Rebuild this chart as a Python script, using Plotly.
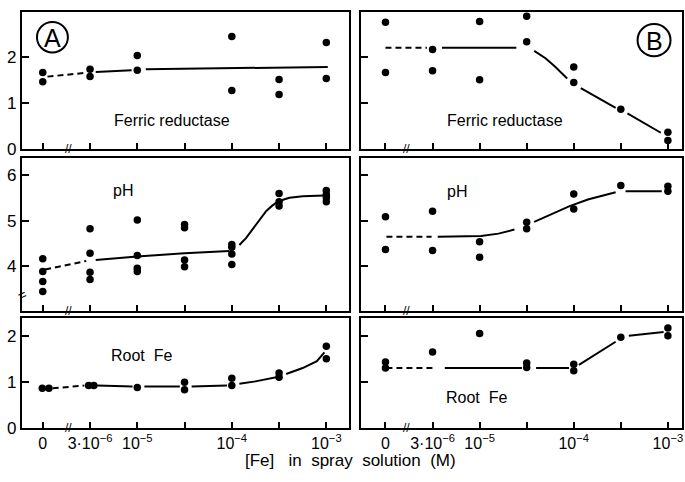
import plotly.graph_objects as go

# ---------------- data ----------------
conc_index = [0, 1, 2, 3, 4, 5, 6]
conc_labels = ["0", "3·10<sup>−6</sup>", "10<sup>−5</sup>", "", "10<sup>−4</sup>", "", "10<sup>−3</sup>"]

# Panel A - Ferric reductase
A_fr_x = [0, 0, 1, 1, 2, 2, 4, 4, 5, 5, 6, 6]
A_fr_y = [1.66, 1.46, 1.73, 1.57, 2.03, 1.71, 2.44, 1.27, 1.51, 1.18, 2.31, 1.53]
A_fr_dash_x = [0.1, 0.88]
A_fr_dash_y = [1.57, 1.65]
A_fr_fit_x = [1.12, 1.88, None, 2.18, 6.03]
A_fr_fit_y = [1.67, 1.71, None, 1.73, 1.78]

# Panel B - Ferric reductase
B_fr_x = [0, 0, 1, 1, 2, 2, 3, 3, 4, 4, 5, 6, 6]
B_fr_y = [2.75, 1.66, 2.16, 1.70, 2.77, 1.50, 2.88, 2.33, 1.78, 1.44, 0.86, 0.36, 0.18]
B_fr_dash_x = [0.0, 0.88]
B_fr_dash_y = [2.2, 2.2]
B_fr_fit_x = [1.2, 2.78, None, 3.16, 3.4, 3.6, 3.86, None, 4.15, 4.5, 4.89, None, 5.14, 5.5, 5.85]
B_fr_fit_y = [2.2, 2.2, None, 2.13, 1.97, 1.79, 1.53, None, 1.32, 1.12, 0.89, None, 0.77, 0.56, 0.35]

# Panel A - pH
A_ph_x = [0, 0, 0, 0, 1, 1, 1, 1, 2, 2, 2, 2, 3, 3, 3, 3, 4, 4, 4, 4, 5, 5, 5, 6, 6, 6, 6]
A_ph_y = [4.17, 3.89, 3.67, 3.45, 4.83, 4.29, 3.87, 3.71, 5.02, 4.24, 3.96, 3.89,
          4.92, 4.85, 4.14, 3.99, 4.48, 4.42, 4.27, 4.04, 5.60, 5.42, 5.33,
          5.67, 5.58, 5.51, 5.42]
A_ph_dash_x = [0.05, 0.92]
A_ph_dash_y = [3.93, 4.12]
A_ph_fit_x = [1.12, 2.0, 3.0, 3.95, None, 4.16, 4.3, 4.45, 4.6, 4.73, 4.85, 4.94, 5.1, 5.22, 5.5, 5.96]
A_ph_fit_y = [4.14, 4.22, 4.29, 4.34, None, 4.47, 4.62, 4.83, 5.05, 5.22, 5.33, 5.40, 5.47, 5.51, 5.54, 5.56]

# Panel B - pH
B_ph_x = [0, 0, 1, 1, 2, 2, 3, 3, 4, 4, 5, 6, 6]
B_ph_y = [5.09, 4.37, 5.21, 4.35, 4.54, 4.20, 4.97, 4.83, 5.59, 5.26, 5.78, 5.76, 5.65]
B_ph_dash_x = [0.02, 0.98]
B_ph_dash_y = [4.65, 4.65]
B_ph_fit_x = [1.11, 2.03, 2.4, 2.74, None, 3.16, 3.5, 3.9, 4.3, 4.6, 4.89, None, 5.1, 5.87]
B_ph_fit_y = [4.65, 4.67, 4.72, 4.81, None, 4.98, 5.13, 5.32, 5.47, 5.56, 5.63, None, 5.65, 5.65]

# Panel A - Root Fe
A_rf_x = [-0.01, 0.13, 0.97, 1.08, 2, 3, 3, 4, 4, 5, 5, 6, 6]
A_rf_y = [0.86, 0.86, 0.92, 0.92, 0.88, 0.99, 0.83, 1.08, 0.92, 1.19, 1.10, 1.77, 1.50]
A_rf_dash_x = [0.21, 0.88]
A_rf_dash_y = [0.86, 0.92]
A_rf_fit_x = [1.15, 1.9, None, 2.15, 2.9, None, 3.15, 3.9, None, 4.16, 4.5, 4.94, None, 5.15, 5.5, 5.8, 5.96]
A_rf_fit_y = [0.92, 0.90, None, 0.90, 0.90, None, 0.90, 0.92, None, 0.96, 1.01, 1.10, None, 1.17, 1.30, 1.45, 1.64]

# Panel B - Root Fe
B_rf_x = [0, 0, 1, 2, 3, 3, 4, 4, 5, 6, 6]
B_rf_y = [1.43, 1.30, 1.65, 2.05, 1.41, 1.31, 1.38, 1.24, 1.97, 2.17, 2.00]
B_rf_dash_x = [0.02, 1.0]
B_rf_dash_y = [1.30, 1.30]
B_rf_fit_x = [1.26, 2.9, None, 3.2, 3.9, None, 4.11, 4.89, None, 5.17, 5.91]
B_rf_fit_y = [1.30, 1.30, None, 1.30, 1.30, None, 1.37, 1.87, None, 2.00, 2.08]

fr_ticks = [0, 1, 2]
ph_ticks = [4, 5, 6]
rf_ticks = [0, 1, 2]

# ---------------- figure ----------------
W, H = 685, 482
FONT = "Liberation Sans, Arial, sans-serif"

def px_x(p):
    return p / W

def px_y(p):
    return 1 - p / H

panels = [
    ("", A_fr_x, A_fr_y, A_fr_dash_x, A_fr_dash_y, A_fr_fit_x, A_fr_fit_y),
    ("2", B_fr_x, B_fr_y, B_fr_dash_x, B_fr_dash_y, B_fr_fit_x, B_fr_fit_y),
    ("3", A_ph_x, A_ph_y, A_ph_dash_x, A_ph_dash_y, A_ph_fit_x, A_ph_fit_y),
    ("4", B_ph_x, B_ph_y, B_ph_dash_x, B_ph_dash_y, B_ph_fit_x, B_ph_fit_y),
    ("5", A_rf_x, A_rf_y, A_rf_dash_x, A_rf_dash_y, A_rf_fit_x, A_rf_fit_y),
    ("6", B_rf_x, B_rf_y, B_rf_dash_x, B_rf_dash_y, B_rf_fit_x, B_rf_fit_y),
]

fig = go.Figure()
for suf, px, py, dx, dy, fx, fy in panels:
    xa, ya = "x" + suf, "y" + suf
    fig.add_trace(go.Scatter(x=dx, y=dy, mode="lines", xaxis=xa, yaxis=ya,
                             line=dict(color="black", width=2, dash="6px,4px"),
                             showlegend=False, hoverinfo="skip"))
    fig.add_trace(go.Scatter(x=fx, y=fy, mode="lines", xaxis=xa, yaxis=ya,
                             line=dict(color="black", width=2), connectgaps=False,
                             showlegend=False, hoverinfo="skip"))
    fig.add_trace(go.Scatter(x=px, y=py, mode="markers", xaxis=xa, yaxis=ya,
                             marker=dict(color="black", size=7.5),
                             showlegend=False))

left_dom = [px_x(22), px_x(350)]
right_dom = [px_x(362), px_x(683)]
left_rng = [-0.44, 6.49]
right_rng = [-0.51, 6.30]
row_dom = [
    [px_y(152), px_y(12)],
    [px_y(318), px_y(161.5)],
    [px_y(437), px_y(325)],
]
y_rngs = [[0, 2.98], [3.01, 6.38], [0, 2.38]]
y_ticks = [fr_ticks, ph_ticks, rf_ticks]

layout = dict(
    width=W, height=H,
    margin=dict(l=0, r=0, t=0, b=0),
    paper_bgcolor="white", plot_bgcolor="white",
    font=dict(family=FONT, color="black", size=16),
    showlegend=False,
)

axis_common = dict(showline=True, linecolor="black", linewidth=2, mirror=True,
                   showgrid=False, zeroline=False, ticks="inside",
                   tickcolor="black", tickwidth=1.5)

for i in range(6):
    row, col = i // 2, i % 2
    suf = "" if i == 0 else str(i + 1)
    layout["xaxis" + suf] = dict(axis_common,
                                 domain=left_dom if col == 0 else right_dom,
                                 range=left_rng if col == 0 else right_rng,
                                 anchor="y" + suf,
                                 tickmode="array",
                                 tickvals=conc_index, ticktext=conc_labels,
                                 showticklabels=(row == 2), ticklen=6,
                                 tickfont=dict(size=16, family=FONT))
    layout["yaxis" + suf] = dict(axis_common,
                                 domain=row_dom[row], range=y_rngs[row],
                                 anchor="x" + suf,
                                 tickmode="array",
                                 tickvals=y_ticks[row], ticklen=7,
                                 showticklabels=(col == 0),
                                 tickfont=dict(size=17, family=FONT))

fig.update_layout(**layout)

annotations = []
for txt, xp, yp in [("Ferric reductase", 172, 123), ("Ferric reductase", 506, 123),
                    ("pH", 123, 195), ("pH", 458, 196),
                    ("Root  Fe", 142, 363), ("Root  Fe", 477, 406)]:
    annotations.append(dict(text=txt, x=px_x(xp), y=px_y(yp), xref="paper", yref="paper",
                            showarrow=False, font=dict(size=16, family=FONT),
                            xanchor="center", yanchor="middle"))
for txt, cx, cy in [("A", 52.5, 38), ("B", 655, 41)]:
    annotations.append(dict(text=txt, x=px_x(cx), y=px_y(cy + 1), xref="paper", yref="paper",
                            showarrow=False, font=dict(size=25, family=FONT),
                            xanchor="center", yanchor="middle"))
for i in range(6):
    suf = "" if i == 0 else str(i + 1)
    annotations.append(dict(text="//", x=0.55 if i % 2 == 0 else 0.45, y=0,
                            xref="x" + suf, yref="y" + suf + " domain",
                            showarrow=False, font=dict(size=12, family=FONT),
                            xanchor="center", yanchor="middle"))
annotations.append(dict(text="=", x=px_x(22), y=px_y(301), xref="paper", yref="paper",
                        showarrow=False, textangle=-25, font=dict(size=14, family=FONT),
                        xanchor="center", yanchor="middle"))
annotations.append(dict(text="[Fe]   in  spray  solution  (M)", x=px_x(351), y=px_y(470),
                        xref="paper", yref="paper", showarrow=False,
                        font=dict(size=17, family=FONT), xanchor="center", yanchor="middle"))
fig.update_layout(annotations=annotations)

shapes = []
for cx, cy, r in [(52.5, 38, 15.5), (655, 41, 16.5)]:
    shapes.append(dict(type="circle", xref="paper", yref="paper",
                       x0=px_x(cx - r), x1=px_x(cx + r), y0=px_y(cy + r), y1=px_y(cy - r),
                       line=dict(color="black", width=2)))
fig.update_layout(shapes=shapes)

post = ("document.documentElement.style.margin='0px';"
        "document.body.style.margin='0px';"
        "document.body.style.overflow='hidden';"
        "var d=document.getElementById('{plot_id}');"
        "d.style.position='fixed';d.style.top='0px';d.style.left='0px';")

fig.write_html("out.html", config={"displayModeBar": False}, post_script=post)
